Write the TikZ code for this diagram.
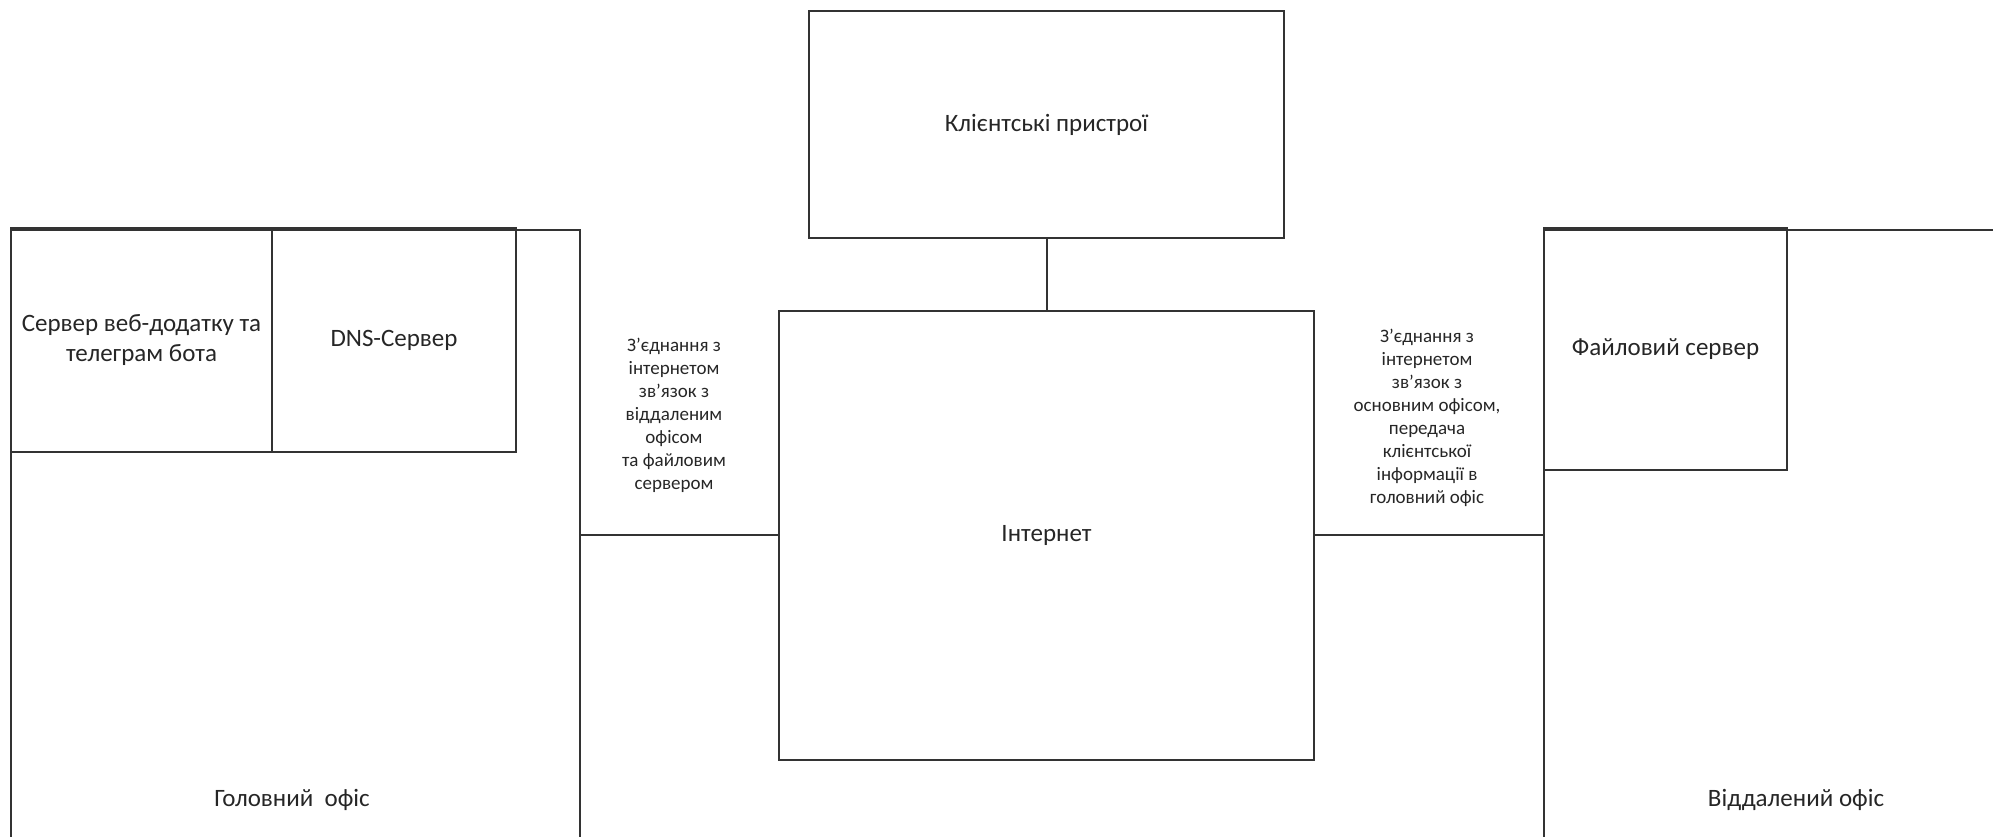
\documentclass[tikz,border=0pt]{standalone}
\usepackage{fontspec}
\setmainfont{Carlito}
\begin{document}
\begin{tikzpicture}[x=1pt,y=-1pt,
  box/.style={draw=black!80, line width=2pt, rectangle, inner sep=0pt},
  wire/.style={draw=black!80, line width=2pt},
  big/.style={font=\fontsize{25}{30}\selectfont, text=black!85},
  small/.style={font=\fontsize{19}{23}\selectfont, text=black!85, align=center}]
\useasboundingbox (0,0) rectangle (1993,837);
\clip (0,0) rectangle (1993,837);
% offices (open past the picture edge)
\node[box, anchor=north west, minimum width=569pt, minimum height=640pt] (main) at (10,229) {};
\node[box, anchor=north west, minimum width=480pt, minimum height=640pt] (remote) at (1543,229) {};
% main office servers
\node[box, anchor=north west, minimum width=261pt, minimum height=224pt] (web) at (10,227) {};
\node[box, anchor=north west, minimum width=244pt, minimum height=224pt] (dns) at (271,227) {};
\node[big, align=center] (webt) at (web.center) {Сервер веб-додатку та\\телеграм бота};
\node[big] (dnst) at (dns.center) {DNS-Сервер};
% remote office server
\node[box, anchor=north west, minimum width=243pt, minimum height=242pt] (file) at (1543,227) {};
\node[big] (filet) at (file.center) {Файловий сервер};
% clients and internet
\node[box, anchor=north west, minimum width=475pt, minimum height=227pt] (client) at (808,10) {};
\node[big] (clientt) at (client.center) {Клієнтські пристрої};
\node[box, anchor=north west, minimum width=535pt, minimum height=449pt] (inet) at (778,310) {};
\node[big] (inett) at (inet.center) {Інтернет};
% office labels
\node[big] (mainl) at (292,800) {Головний\ \ офіс};
\node[big] (remotel) at (1796,800) {Віддалений офіс};
% connectors
\coordinate (mainR) at (579,535);
\coordinate (remoteL) at (1543,535);
\draw[wire] (client.south) -- (inet.north);
\draw[wire] (mainR) -- (inet.west |- mainR);
\draw[wire] (inet.east |- remoteL) -- (remoteL);
% connection labels
\node[small] (lbl1) at (674,415) {З’єднання з\\інтернетом\\зв’язок з\\віддаленим\\офісом\\та файловим\\сервером};
\node[small] (lbl2) at (1427,418) {З’єднання з\\інтернетом\\зв’язок з\\основним офісом,\\передача\\клієнтської\\інформації в\\головний офіс};
\end{tikzpicture}
\end{document}
